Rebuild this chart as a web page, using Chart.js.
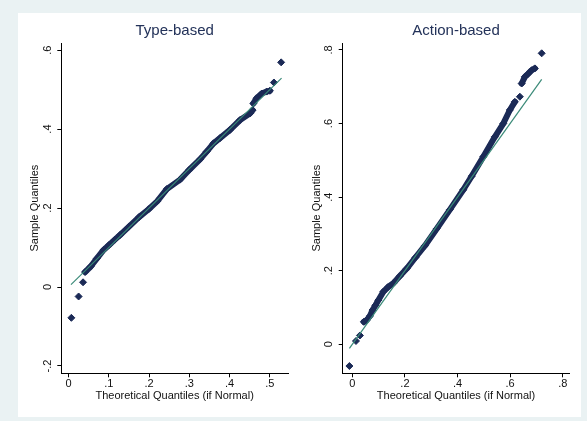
<!DOCTYPE html>
<html>
<head>
<meta charset="utf-8">
<script src="https://cdn.jsdelivr.net/npm/chart.js@4"></script>
<style>
  body { margin: 0; background: #eaf2f3; }
  #panel { position: absolute; left: 18px; top: 13px; width: 563px; height: 404px; background: #fff; }
  canvas { position: absolute; top: 0; }
  #typeChart { left: 0; }
  #actionChart { left: 282px; }
</style>
</head>
<body>
<div id="panel">
  <canvas id="typeChart" width="282" height="404"></canvas>
  <canvas id="actionChart" width="281" height="404"></canvas>
</div>
<script>
// Type-based: sample quantiles vs theoretical quantiles
const typeX = [0.041, 0.055, 0.07, 0.087, 0.1, 0.115, 0.128, 0.15, 0.175, 0.199, 0.22, 0.244, 0.277, 0.3, 0.327, 0.343, 0.36, 0.376, 0.401, 0.426, 0.451, 0.457];
const typeY = [0.038, 0.052, 0.072, 0.094, 0.106, 0.12, 0.132, 0.153, 0.177, 0.197, 0.217, 0.248, 0.272, 0.297, 0.324, 0.343, 0.364, 0.377, 0.398, 0.423, 0.44, 0.448];
const typeClusterX = [0.459, 0.467, 0.48, 0.492, 0.5];
const typeClusterY = [0.465, 0.478, 0.49, 0.495, 0.497];
const typeTailX = [0.007, 0.025, 0.036, 0.51, 0.528];
const typeTailY = [-0.078, -0.024, 0.012, 0.518, 0.569];
const typeRefX = [0.006, 0.529];
const typeRefY = [0.006, 0.529];
const typeXTicks = [0, 0.1, 0.2, 0.3, 0.4, 0.5];
const typeYTicks = [-0.2, 0, 0.2, 0.4, 0.6];

// Action-based
const actionX = [0.044, 0.055, 0.067, 0.077, 0.088, 0.099, 0.118, 0.135, 0.156, 0.18, 0.207, 0.24, 0.276, 0.321, 0.371, 0.422, 0.454, 0.498, 0.542, 0.574, 0.599, 0.618];
const actionY = [0.061, 0.066, 0.077, 0.093, 0.106, 0.12, 0.143, 0.155, 0.166, 0.185, 0.206, 0.236, 0.268, 0.314, 0.366, 0.42, 0.457, 0.51, 0.564, 0.6, 0.637, 0.659];
const actionClusterX = [0.644, 0.656, 0.668, 0.682, 0.694];
const actionClusterY = [0.709, 0.727, 0.735, 0.745, 0.75];
const actionTailX = [-0.011, 0.014, 0.029, 0.637, 0.72];
const actionTailY = [-0.059, 0.009, 0.024, 0.673, 0.791];
const actionRefX = [-0.011, 0.72];
const actionRefY = [-0.011, 0.72];
const actionXTicks = [0, 0.2, 0.4, 0.6, 0.8];
const actionYTicks = [0, 0.2, 0.4, 0.6, 0.8];

const NAVY = '#1b2a56';
const TEAL = '#3a8a78';
const FONT = "'Liberation Sans', Arial, sans-serif";

function pts(xs, ys) {
    return xs.map((x, i) => ({ x: x, y: ys[i] }));
}

function fmt(v) {
    if (v === 0) return '0';
    return String(v).replace(/^(-?)0\./, '$1.');
}

// stata style: title centred on the plot region, vertical y tick labels
const stataText = {
    id: 'stataText',
    afterDraw(chart, args, opts) {
        const ctx = chart.ctx;
        const area = chart.chartArea;
        const y = chart.scales.y;
        ctx.save();
        ctx.font = '15px ' + FONT;
        ctx.fillStyle = '#233259';
        ctx.textAlign = 'center';
        ctx.textBaseline = 'middle';
        ctx.fillText(opts.title, (area.left + area.right) / 2, 18);

        ctx.font = '11px ' + FONT;
        ctx.fillStyle = '#111';
        opts.ticks.forEach(v => {
            ctx.save();
            ctx.translate(area.left - 13.5, y.getPixelForValue(v));
            ctx.rotate(-Math.PI / 2);
            ctx.fillText(fmt(v), 0, 0);
            ctx.restore();
        });
        ctx.restore();
    }
};

function makeChart(id, title, d, xr, yr, yAxisWidth, padRight) {
    const markers = {
        borderColor: NAVY,
        backgroundColor: NAVY,
        pointStyle: 'rectRot',
        pointRadius: 3.5,
        pointBorderWidth: 1,
        pointBorderColor: NAVY,
        pointBackgroundColor: NAVY
    };
    return new Chart(document.getElementById(id), {
        type: 'scatter',
        data: {
            datasets: [
                {
                    data: pts(d.refX, d.refY),
                    showLine: true,
                    borderColor: TEAL,
                    borderWidth: 1.2,
                    pointRadius: 0
                },
                Object.assign({ data: pts(d.x, d.y), showLine: true, borderWidth: 6, borderJoinStyle: 'round', borderCapStyle: 'round' }, markers),
                Object.assign({ data: pts(d.cx, d.cy), showLine: true, borderWidth: 6, borderJoinStyle: 'round', borderCapStyle: 'round' }, markers),
                Object.assign({ data: pts(d.tx, d.ty), showLine: false }, markers)
            ]
        },
        options: {
            responsive: false,
            animation: false,
            devicePixelRatio: 1,
            events: [],
            layout: { padding: { left: 0, right: padRight, top: 30, bottom: 0 } },
            plugins: {
                legend: { display: false },
                tooltip: { enabled: false },
                title: { display: false },
                stataText: { title: title, ticks: d.yTicks }
            },
            scales: {
                x: {
                    type: 'linear',
                    min: xr[0], max: xr[1],
                    afterBuildTicks: s => { s.ticks = d.xTicks.map(v => ({ value: v })); },
                    afterFit: s => { s.height = 43.7; },
                    grid: { drawOnChartArea: false, drawTicks: true, tickLength: 4, color: '#000' },
                    border: { display: true, color: '#000', width: 1 },
                    ticks: {
                        padding: 0,
                        maxRotation: 0,
                        color: '#111',
                        font: { family: FONT, size: 11 },
                        callback: v => fmt(v)
                    },
                    title: {
                        display: true,
                        text: 'Theoretical Quantiles (if Normal)',
                        color: '#111',
                        font: { family: FONT, size: 11 },
                        padding: { top: 0, bottom: 14.7 }
                    }
                },
                y: {
                    type: 'linear',
                    min: yr[0], max: yr[1],
                    afterBuildTicks: s => { s.ticks = d.yTicks.map(v => ({ value: v })); },
                    afterFit: s => { s.width = yAxisWidth; },
                    grid: { drawOnChartArea: false, drawTicks: true, tickLength: 4, color: '#000' },
                    border: { display: true, color: '#000', width: 1 },
                    ticks: { display: false },
                    title: {
                        display: true,
                        text: 'Sample Quantiles',
                        color: '#111',
                        font: { family: FONT, size: 11 },
                        padding: { top: 10.5, bottom: 0 }
                    }
                }
            }
        },
        plugins: [stataText]
    });
}

makeChart('typeChart', 'Type-based', {
    x: typeX, y: typeY, cx: typeClusterX, cy: typeClusterY,
    tx: typeTailX, ty: typeTailY, refX: typeRefX, refY: typeRefY,
    xTicks: typeXTicks, yTicks: typeYTicks
}, [-0.018, 0.545], [-0.2185, 0.618], 43.3, 12);

makeChart('actionChart', 'Action-based', {
    x: actionX, y: actionY, cx: actionClusterX, cy: actionClusterY,
    tx: actionTailX, ty: actionTailY, refX: actionRefX, refY: actionRefY,
    xTicks: actionXTicks, yTicks: actionYTicks
}, [-0.0365, 0.825], [-0.0788, 0.819], 42.7, 11.7);
</script>
</body>
</html>
